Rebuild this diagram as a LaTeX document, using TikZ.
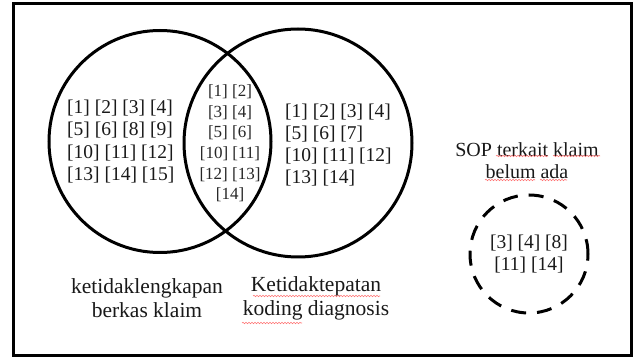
\documentclass[tikz,border=0pt]{standalone}
\usepackage{fontspec}
\setmainfont{Liberation Serif}
\usetikzlibrary{decorations.pathmorphing}
\tikzset{
  ring/.style={draw=black, line width=3pt, circle, inner sep=0pt},
  listtext/.style={inner sep=0pt, font=\fontsize{19.5}{22.3}\selectfont, text=black!90},
  midtext/.style={inner sep=0pt, align=center, font=\fontsize{17}{20.6}\selectfont, text=black!85},
  labeltext/.style={inner sep=0pt, align=center, font=\fontsize{21.5}{23.5}\selectfont, text=black!90},
  sopt/.style={inner sep=0pt, align=center, font=\fontsize{20}{22}\selectfont, text=black!90},
  spell/.style={draw=red!55, line width=0.6pt, decorate, decoration={snake, amplitude=0.7pt, segment length=3pt}}
}
\begin{document}
\begin{tikzpicture}[x=1pt, y=-1pt]
\useasboundingbox (0,0) rectangle (635,358);
\draw[line width=3pt] (13,4) rectangle (631,355);
% Venn circles
\node[ring, minimum size=222pt] (left) at (160,141.5) {};
\node[ring, minimum size=228pt] (right) at (298,143) {};
% Dashed circle
\node[ring, minimum size=118pt, dash pattern=on 15pt off 11pt] (sop) at (529,254) {};
% Texts
\node[listtext, align=left, anchor=west] (ltext) at (67,141.5) {[1] [2] [3] [4]\\{}[5] [6] [8] [9]\\{}[10] [11] [12]\\{}[13] [14] [15]};
\node[midtext] (mtext) at (230,143.5) {[1] [2]\\{}[3] [4]\\{}[5] [6]\\{}[10] [11]\\{}[12] [13]\\{}[14]};
\node[listtext, align=left, anchor=west] (rtext) at (285,145) {[1] [2] [3] [4]\\{}[5] [6] [7]\\{}[10] [11] [12]\\{}[13] [14]};
\node[listtext, align=center] (stext) at (529,254) {[3] [4] [8]\\{}[11] [14]};
% Labels
\node[labeltext] (llab) at (147,298) {ketidaklengkapan\\berkas klaim};
\node[labeltext] (rlab) at (316,298.5) {Ketidaktepatan\\koding diagnosis};
\node[sopt] (slab) at (527,161) {SOP terkait klaim\\belum ada};
% spell-check underlines
\draw[spell] (253,296) -- (380,296);
\draw[spell] (242,323) -- (302,323);
\draw[spell] (496,156) -- (548,156);
\draw[spell] (553,156) -- (600,156);
\draw[spell] (485,180) -- (535,180);
\draw[spell] (540,180) -- (567,180);
\end{tikzpicture}
\end{document}
